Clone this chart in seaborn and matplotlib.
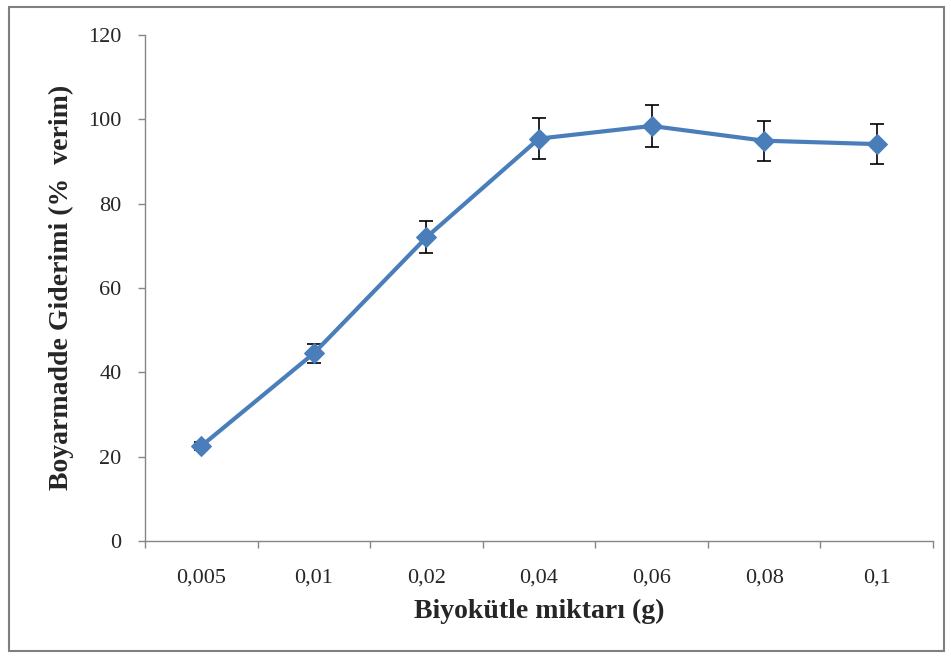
import matplotlib
matplotlib.use('Agg')
import matplotlib.pyplot as plt
from matplotlib.patches import Rectangle
import seaborn as sns
import numpy as np
import pandas as pd

# data
biomass = ['0,005', '0,01', '0,02', '0,04', '0,06', '0,08', '0,1']
removal = [22.5, 44.5, 72.0, 95.4, 98.4, 94.9, 94.1]
removal_err = [1.0, 2.3, 3.8, 4.8, 5.0, 4.7, 4.7]

df = pd.DataFrame({'biomass': biomass, 'removal': removal, 'err': removal_err})

sns.set_style('white')
plt.rcParams['font.family'] = ['Liberation Serif', 'DejaVu Serif']

fig = plt.figure(figsize=(9.51, 6.58), dpi=100)
ax = fig.add_axes([0.1525, 0.178, 0.8286, 0.769])

blue = '#4A7EBB'
xpos = np.arange(len(biomass))

# error bars first, line + markers on top
ax.errorbar(xpos, df['removal'], yerr=df['err'], fmt='none', ecolor='black',
            elinewidth=1.2, capsize=5, capthick=1.2, zorder=2)
sns.lineplot(data=df, x='biomass', y='removal', sort=False, ax=ax, color=blue,
             linewidth=3, marker='D', markersize=10, markeredgecolor=blue,
             zorder=3)

##################################################################################
# axes styling
ax.set_xlim(-0.5, len(biomass) - 0.5)
ax.set_ylim(0, 120)
ax.set_yticks(np.arange(0, 121, 20))
ax.set_xticks(xpos)
ax.set_xticklabels(biomass)
ax.set_xticks(np.arange(-0.5, len(biomass), 1.0), minor=True)

for side in ['top', 'right']:
    ax.spines[side].set_visible(False)
for side in ['left', 'bottom']:
    ax.spines[side].set_color('#868686')
    ax.spines[side].set_linewidth(1.0)

ax.tick_params(axis='y', which='major', direction='out', length=5, width=1,
               color='#868686', left=True, pad=12, labelsize=16)
ax.tick_params(axis='x', which='major', length=0, pad=20, labelsize=16)
ax.tick_params(axis='x', which='minor', direction='out', length=5, width=1,
               color='#868686', bottom=True)

ax.set_xlabel('Biyokütle miktarı (g)', fontsize=20, fontweight='bold', labelpad=8)
ax.set_ylabel('Boyarmadde Giderimi (%  verim)', fontsize=20, fontweight='bold',
              labelpad=10)

# outer chart border
fig.patches.append(Rectangle((0.009, 0.011), 0.984, 0.978, transform=fig.transFigure,
                             fill=False, edgecolor='#7F7F7F', linewidth=1.5))

plt.savefig('out.png', dpi=100)
